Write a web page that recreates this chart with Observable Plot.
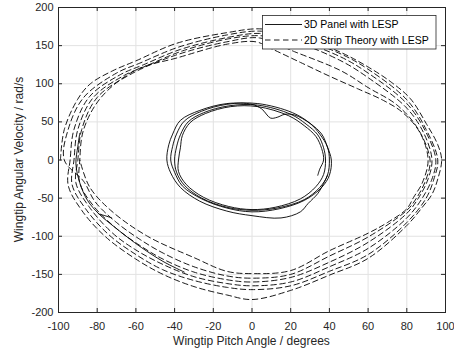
<!DOCTYPE html>
<html><head><meta charset="utf-8">
<script src="https://cdn.jsdelivr.net/npm/d3@7"></script>
<script src="https://cdn.jsdelivr.net/npm/@observablehq/plot@0.6"></script>
<style>
body{margin:0;background:#fff;}
#chart{width:454px;height:355px;}
</style></head><body><div id="chart"></div>
<script>
const xTicks = [-100,-80,-60,-40,-20,0,20,40,60,80,100];
const yTicks = [-200,-150,-100,-50,0,50,100,150,200];
const seriesNames = ["3D Panel with LESP", "2D Strip Theory with LESP"];
const xLabel = "Wingtip Pitch Angle / degrees";
const yLabel = "Wingtip Angular Velocity / rad/s";

// 2D strip theory (dashed) - successive cycles
const dashLoop1 = [[-99,0],[-97,40],[-90,80],[-83.5,100],[-72,117],[-60,130],[-39,153],[-13,167],[4,172],[22,164],[46,141],[60,122],[72,102],[82,80],[90,48],[96,20],[98,0],[96,-25],[93,-45],[88,-62],[80,-86],[60,-129],[40,-151],[20,-171],[0,-183],[-13,-177],[-30,-166],[-46,-150],[-60,-130],[-76,-100],[-88,-66],[-95,-33]];
const dashLoop2 = [[-97,0],[-95,40],[-87,82],[-70,114],[-58,127],[-38,148],[-13,164],[4,169],[22,161],[46,139],[60,119],[80,79],[90,40],[96,0],[94,-25],[90,-50],[80,-82],[60,-124],[40,-146],[20,-165],[0,-170],[-13,-167],[-30,-158],[-46,-144],[-60,-124],[-74,-98],[-86,-64],[-93,-32]];
const dashLoop3 = [[-94,0],[-92,40],[-84,83],[-68,112],[-56,125],[-37,145],[-12,161],[4,166],[22,158],[46,135],[60,114],[80,74],[90,36],[95,0],[93,-25],[88,-50],[80,-76],[60,-116],[40,-140],[20,-160],[0,-165],[-13,-162],[-30,-153],[-46,-137],[-60,-118],[-72,-96],[-84,-62],[-91,-30]];
const dashLoop4 = [[-92,0],[-90,40],[-82,82],[-66,111],[-55,123],[-36,143],[-12,159],[4,163],[22,155],[46,130],[60,108],[80,68],[89,34],[93,0],[91,-25],[86,-50],[80,-70],[60,-108],[40,-134],[20,-154],[0,-160],[-13,-157],[-30,-147],[-46,-130],[-58,-112],[-70,-90],[-82,-60],[-89,-30]];
const dashLoop5 = [[-90,0],[-88,40],[-80,82],[-63,112],[-40,137],[-13,155],[4,160],[22,142],[46,117],[60,95],[75,72],[86,40],[92,0],[90,-25],[85,-50],[80,-66],[60,-101],[40,-126],[20,-150],[0,-155],[-13,-152],[-30,-140],[-46,-122],[-58,-104],[-70,-82],[-81,-55],[-87,-28]];
const dashLoop6 = [[-89,0],[-87,40],[-78,82],[-60,118],[-38.6,134],[-12.7,152],[2,155],[10,146],[25,128],[40,110],[55,93],[68,78],[78,62],[87,35],[91,0],[88,-30],[83.5,-49],[80,-64],[70,-82],[60,-96],[40,-119],[20,-145],[0,-149],[-13,-146],[-30,-128],[-54,-100],[-73,-66],[-84,-35],[-89,0]];

// 3D panel (solid)
const solidPath = [[39,-20],[37,-31],[34,-44],[29,-57],[25,-68],[15,-76],[0,-73],[-13,-67],[-27,-54],[-37,-36],[-42,-17],[-44,0],[-43,20],[-41,34],[-37,52],[-27,65],[-13,74],[0,73],[5,67],[9.6,55],[13,56],[17,60],[22,59],[30,48],[36,34],[39,17],[41,0],[40,-20],[36,-36],[27,-53],[14,-64],[0,-68],[-13,-63],[-26,-51],[-36,-34],[-40,-16],[-42,0],[-41,18],[-39,34],[-35,51],[-26,64],[-13,73],[3,74],[21,62],[30,48],[35,34],[39,17],[40,0],[39,-20],[35,-36],[27,-52],[13,-63],[0,-66],[-13,-62],[-26,-50],[-35,-33],[-39,-16],[-40,0],[-39,17],[-37,33],[-33,50],[-25,62],[-12,71],[3,72],[20,60],[28,47],[34,33],[37,16],[38,0],[37,-19],[33,-35],[25,-51],[12,-62],[0,-65],[-12,-61],[-25,-49],[-34,-32],[-38,-15],[-38,0],[-37,16],[-36,32],[-32,49],[-24,61],[-11,70],[3,70],[19,58],[27,45],[33,31],[36,15],[37,0],[35,-12],[34,-20]];
const solidLeft = [[-35,-147],[-46,-133],[-57,-115],[-64,-102],[-71,-88],[-79,-71],[-85,-53],[-89,-30],[-91,-5],[-90,18],[-89,35]];
const solidHook = [[-79,-71],[-76,-73],[-72.5,-76]];

const toRows = (pts, id) => pts.map(([x, y]) => ({x, y, id}));
const dashedRows = toRows([dashLoop1, dashLoop3, dashLoop5, dashLoop2, dashLoop4, dashLoop6].flat(), "d");
const solidRows = [...toRows(solidPath, "a"), ...toRows(solidLeft, "b"), ...toRows(solidHook, "c")];

const W = 454, H = 355, mL = 58, mR = 9, mT = 7, mB = 43;
const pw = W - mL - mR, ph = H - mT - mB, tk = 4;
const axisColor = "#262626";

const svg = Plot.plot({
  width: W, height: H,
  marginLeft: mL, marginRight: mR, marginTop: mT, marginBottom: mB,
  style: {fontFamily: "'Liberation Sans', Arial, Helvetica, sans-serif", fontSize: "11px", color: axisColor, background: "#fff", overflow: "visible"},
  x: {domain: [-100, 100]},
  y: {domain: [-200, 200]},
  marks: [
    Plot.gridX(xTicks, {stroke: "#e2e2e2", strokeOpacity: 1}),
    Plot.gridY(yTicks, {stroke: "#e2e2e2", strokeOpacity: 1}),
    Plot.line(solidRows, {x: "x", y: "y", z: "id", stroke: "#000", strokeWidth: 0.9, curve: "catmull-rom", clip: true}),
    Plot.line(dashedRows, {x: "x", y: "y", stroke: "#000", strokeWidth: 0.9, strokeDasharray: "5.5,3.5", curve: "catmull-rom", clip: true}),
    Plot.tickX(xTicks, {x: d => d, insetTop: ph - tk, stroke: axisColor}),
    Plot.tickX(xTicks, {x: d => d, insetBottom: ph - tk, stroke: axisColor}),
    Plot.tickY(yTicks, {y: d => d, insetRight: pw - tk, stroke: axisColor}),
    Plot.tickY(yTicks, {y: d => d, insetLeft: pw - tk, stroke: axisColor}),
    Plot.frame({stroke: axisColor}),
    Plot.axisX({ticks: xTicks, tickSize: 0, tickPadding: 10, tickFormat: d => String(d), fontSize: 11, label: null}),
    Plot.axisY({ticks: yTicks, tickSize: 0, tickPadding: 5, tickFormat: d => String(d), fontSize: 11, label: null})
  ]
});

const s = d3.select(svg);
// axis titles
s.append("text").attr("x", mL + pw / 2).attr("y", 345).attr("text-anchor", "middle")
  .attr("font-size", 12).attr("fill", axisColor).text(xLabel);
s.append("text").attr("transform", `translate(22.5,${mT + ph / 2}) rotate(-90)`).attr("text-anchor", "middle")
  .attr("font-size", 12).attr("fill", axisColor).text(yLabel);

// legend
const lg = s.append("g").attr("text-anchor", "start");
lg.append("rect").attr("x", 262.5).attr("y", 15.5).attr("width", 173.5).attr("height", 33.5)
  .attr("fill", "#fff").attr("stroke", axisColor).attr("stroke-width", 0.8);
const rowsY = [24.5, 40];
seriesNames.forEach((name, i) => {
  lg.append("line").attr("x1", 265).attr("x2", 302).attr("y1", rowsY[i]).attr("y2", rowsY[i])
    .attr("stroke", "#000").attr("stroke-width", 0.9).attr("stroke-dasharray", i === 1 ? "5.5,3.5" : null);
  lg.append("text").attr("x", 304).attr("y", rowsY[i]).attr("dy", "0.35em").attr("font-size", 10.5)
    .attr("text-anchor", "start").attr("fill", "#000").text(name);
});

document.getElementById("chart").appendChild(svg);
</script></body></html>
